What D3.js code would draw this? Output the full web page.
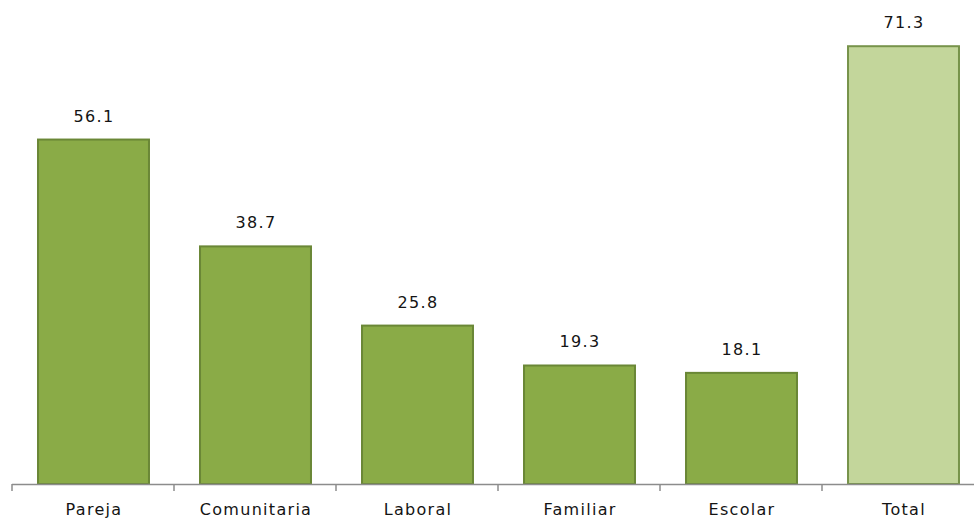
<!DOCTYPE html>
<html>
<head>
<meta charset="utf-8">
<script src="https://cdn.jsdelivr.net/npm/d3@7"></script>
<style>
  body { margin: 0; background: #fff; }
  svg { display: block; }
</style>
</head>
<body>
<div id="chart"></div>
<script>
// datos del grafico
var categories = ["Pareja", "Comunitaria", "Laboral", "Familiar", "Escolar", "Total"];
var values = [56.1, 38.7, 25.8, 19.3, 18.1, 71.3];

var width = 974, height = 519;
var svg = d3.select("#chart").append("svg")
  .attr("width", width).attr("height", height);

// escalas
var x = d3.scaleBand().domain(categories).range([12, 984]).paddingInner(0.315).paddingOuter(0.1575);
var y = d3.scaleLinear().domain([0, 80]).range([484, 484 - 80 * 6.14]);

// barras
svg.selectAll("rect.bar")
  .data(categories)
  .enter().append("rect")
  .attr("class", "bar")
  .attr("x", function(d) { return x(d) + 0.5; })
  .attr("y", function(d, i) { return y(values[i]); })
  .attr("width", x.bandwidth())
  .attr("height", function(d, i) { return y(0) - y(values[i]); })
  .attr("fill", function(d) { return d === "Total" ? "#c3d69b" : "#8aab47"; })
  .attr("stroke", function(d) { return d === "Total" ? "#77934a" : "#6a8736"; })
  .attr("stroke-width", 2);

// etiquetas de valor
svg.selectAll("text.val")
  .data(categories)
  .enter().append("text")
  .attr("class", "val")
  .attr("x", function(d) { return x(d) + x.bandwidth() / 2 + 1; })
  .attr("y", function(d, i) { return y(values[i]) - 18; })
  .attr("text-anchor", "middle")
  .style("font-family", "DejaVu Sans, Verdana, sans-serif")
  .style("font-size", "16px")
  .style("letter-spacing", "1.3px")
  .style("fill", "#141414")
  .text(function(d, i) { return values[i].toFixed(1); });

// eje x
var axis = svg.append("g").attr("transform", "translate(0,484)")
  .call(d3.axisBottom(x).tickSize(0).tickPadding(0).tickFormat(""));
axis.select(".domain").remove();
axis.append("line").attr("x1", 12).attr("x2", 974).attr("y1", 0.5).attr("y2", 0.5)
  .attr("stroke", "#8c8c8c").attr("stroke-width", 1.5);
var step = x.step();
axis.selectAll("line.tk")
  .data(d3.range(categories.length + 1))
  .enter().append("line")
  .attr("class", "tk")
  .attr("x1", function(i) { return 12 + i * step; })
  .attr("x2", function(i) { return 12 + i * step; })
  .attr("y1", 0).attr("y2", 7)
  .attr("stroke", "#8c8c8c").attr("stroke-width", 1.5);

axis.selectAll("text.cat")
  .data(categories)
  .enter().append("text")
  .attr("class", "cat")
  .attr("x", function(d) { return x(d) + x.bandwidth() / 2 + 1; })
  .attr("y", 31)
  .attr("text-anchor", "middle")
  .style("font-family", "DejaVu Sans, Verdana, sans-serif")
  .style("font-size", "16px")
  .style("letter-spacing", "1.3px")
  .style("fill", "#141414")
  .text(function(d) { return d; });
</script>
</body>
</html>
